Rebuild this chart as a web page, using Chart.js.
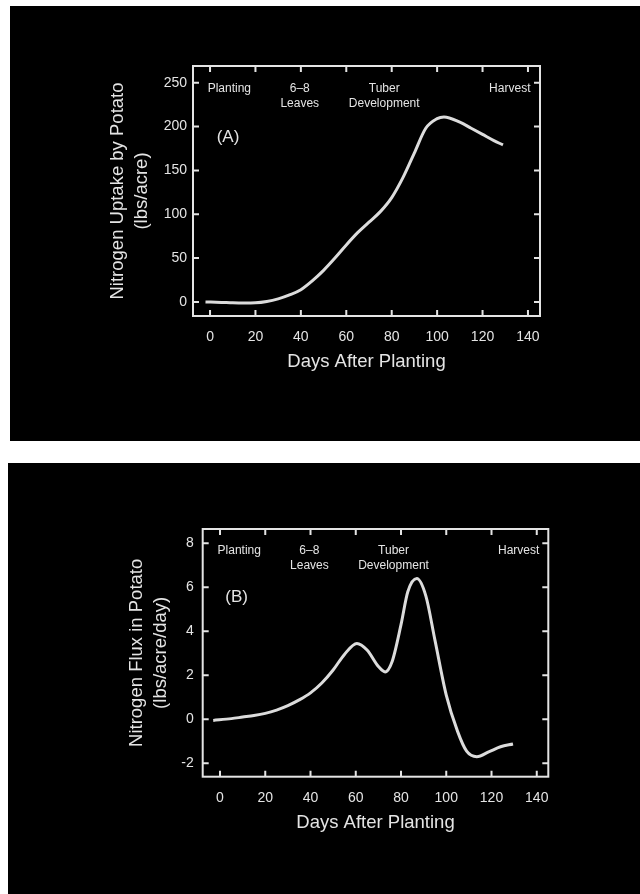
<!DOCTYPE html>
<html>
<head>
<meta charset="utf-8">
<script src="https://cdn.jsdelivr.net/npm/chart.js@4.4.1/dist/chart.umd.min.js"></script>
<style>
  html, body { margin: 0; padding: 0; background: #fff; }
  body { width: 640px; height: 894px; position: relative; overflow: hidden; }
  .panel { position: absolute; background: #000; }
  #panelA { left: 10px; top: 6px; width: 630px; height: 435px; }
  #panelB { left: 8px; top: 463px; width: 632px; height: 431px; }
  canvas { display: block; }
</style>
</head>
<body>
<div class="panel" id="panelA"><canvas id="chartA" width="630" height="435"></canvas></div>
<div class="panel" id="panelB"><canvas id="chartB" width="632" height="431"></canvas></div>
<script>
// (A) cumulative uptake, lbs/acre
const daysA = [-2, 5, 10, 15, 20, 25, 30, 35, 40, 45, 50, 55, 60, 65, 70, 75, 80, 85, 90, 95, 100, 103, 110, 115, 120, 125, 129];
const uptakeA = [0, -0.5, -1, -1.2, -1, 0.5, 3.5, 8, 14, 24, 36, 50, 65, 79, 91, 103, 119, 142, 170, 198, 209, 211, 205, 198, 191, 184, 179];

// (B) daily flux, lbs/acre/day
const daysB = [-3, 5, 10, 15, 20, 25, 30, 35, 40, 45, 50, 55, 60.5, 65, 70, 73, 76, 80, 83, 87, 91, 95, 100, 105, 109, 113.5, 119, 124, 129.5];
const fluxB = [-0.05, 0.03, 0.1, 0.17, 0.27, 0.42, 0.62, 0.88, 1.2, 1.65, 2.24, 2.95, 3.45, 3.15, 2.4, 2.15, 2.6, 4.3, 5.8, 6.4, 5.6, 3.6, 1.1, -0.55, -1.45, -1.7, -1.47, -1.25, -1.12];

const xTicks = [0, 20, 40, 60, 80, 100, 120, 140];
const yTicksA = [0, 50, 100, 150, 200, 250];
const yTicksB = [-2, 0, 2, 4, 6, 8];

// growth stages written along the top of each plot
const stageLabels = [["Planting"], ["6\u20138", "Leaves"], ["Tuber", "Development"], ["Harvest"]];
const stageDays = [8.5, 39.5, 76.7, 132];

const FONT = '"Liberation Sans", Arial, Helvetica, sans-serif';
const INK = "#e4e4e4";

// box round the plot, inward ticks on all sides, stage names and panel letter
const framePlugin = {
    id: "frame",
    afterDraw(chart, args, opts) {
        const { ctx, chartArea: a } = chart;
        const x = chart.scales.x;
        const y = chart.scales.y;
        const tl = 6;
        ctx.save();
        ctx.strokeStyle = INK;
        ctx.lineWidth = 2;
        ctx.strokeRect(a.left, a.top, a.right - a.left, a.bottom - a.top);
        ctx.beginPath();
        x.ticks.forEach((t) => {
            const px = x.getPixelForValue(t.value);
            ctx.moveTo(px, a.bottom);
            ctx.lineTo(px, a.bottom - tl);
            ctx.moveTo(px, a.top);
            ctx.lineTo(px, a.top + tl);
        });
        y.ticks.forEach((t) => {
            const py = y.getPixelForValue(t.value);
            ctx.moveTo(a.left, py);
            ctx.lineTo(a.left + tl, py);
            ctx.moveTo(a.right, py);
            ctx.lineTo(a.right - tl, py);
        });
        ctx.stroke();

        ctx.fillStyle = INK;
        ctx.textAlign = "center";
        ctx.textBaseline = "middle";
        ctx.font = "12px " + FONT;
        stageLabels.forEach((lines, i) => {
            const px = x.getPixelForValue(stageDays[i]);
            lines.forEach((s, j) => ctx.fillText(s, px, a.top + opts.stageTop + j * 14.5));
        });
        ctx.font = "17px " + FONT;
        ctx.fillText(opts.letter, a.left + opts.letterX, a.top + opts.letterY);
        ctx.restore();
    },
};

const makeChart = (id, days, values, c) => {
    const ctx = document.getElementById(id).getContext("2d");
    return new Chart(ctx, {
        type: "line",
        data: {
            datasets: [
                {
                    data: days.map((d, i) => ({ x: d, y: values[i] })),
                    borderColor: "#dcdcdc",
                    borderWidth: 3,
                    pointRadius: 0,
                    fill: false,
                    cubicInterpolationMode: "monotone",
                },
            ],
        },
        options: {
            responsive: false,
            animation: false,
            layout: { padding: c.padding },
            plugins: {
                legend: { display: false },
                tooltip: { enabled: false },
                frame: c.frame,
            },
            scales: {
                x: {
                    type: "linear",
                    min: c.xMin,
                    max: c.xMax,
                    grid: { display: false, drawTicks: false },
                    border: { display: false },
                    afterBuildTicks: (s) => { s.ticks = xTicks.map((v) => ({ value: v })); },
                    afterFit: (s) => { s.height = 60; },
                    ticks: { color: INK, font: { family: FONT, size: 14 }, padding: c.xPad, maxRotation: 0 },
                    title: {
                        display: true,
                        text: "Days After Planting",
                        color: INK,
                        font: { family: FONT, size: 18.5, lineHeight: 1.3 },
                        padding: { top: 0, bottom: 2 },
                    },
                },
                y: {
                    min: c.yMin,
                    max: c.yMax,
                    grid: { display: false, drawTicks: false },
                    border: { display: false },
                    afterBuildTicks: (s) => { s.ticks = c.yTicks.map((v) => ({ value: v })); },
                    afterFit: (s) => { s.width = c.yWidth; },
                    ticks: { color: INK, font: { family: FONT, size: 14 }, padding: c.yPad },
                    title: {
                        display: true,
                        text: c.yTitle,
                        color: INK,
                        font: { family: FONT, size: 18.5, lineHeight: 1.3 },
                        padding: { top: c.yTitlePad, bottom: 0 },
                    },
                },
            },
        },
        plugins: [framePlugin],
    });
};

makeChart("chartA", daysA, uptakeA, {
    padding: { left: 0, top: 60, right: 100, bottom: 65 },
    xMin: -7.5, xMax: 145.3,
    yMin: -16, yMax: 269,
    yTicks: yTicksA,
    yWidth: 183,
    yPad: 6,
    xPad: 13,
    yTitle: ["Nitrogen Uptake by Potato", "(lbs/acre)"],
    yTitlePad: 96,
    frame: { letter: "(A)", stageTop: 23, letterX: 35, letterY: 71 },
});

makeChart("chartB", daysB, fluxB, {
    padding: { left: 0, top: 66, right: 91.7, bottom: 57.3 },
    xMin: -7.65, xMax: 145.1,
    yMin: -2.61, yMax: 8.65,
    yTicks: yTicksB,
    yWidth: 194.7,
    yPad: 9,
    xPad: 13,
    yTitle: ["Nitrogen Flux in Potato", "(lbs/acre/day)"],
    yTitlePad: 116.7,
    frame: { letter: "(B)", stageTop: 21.7, letterX: 34, letterY: 68.3 },
});
</script>
</body>
</html>
